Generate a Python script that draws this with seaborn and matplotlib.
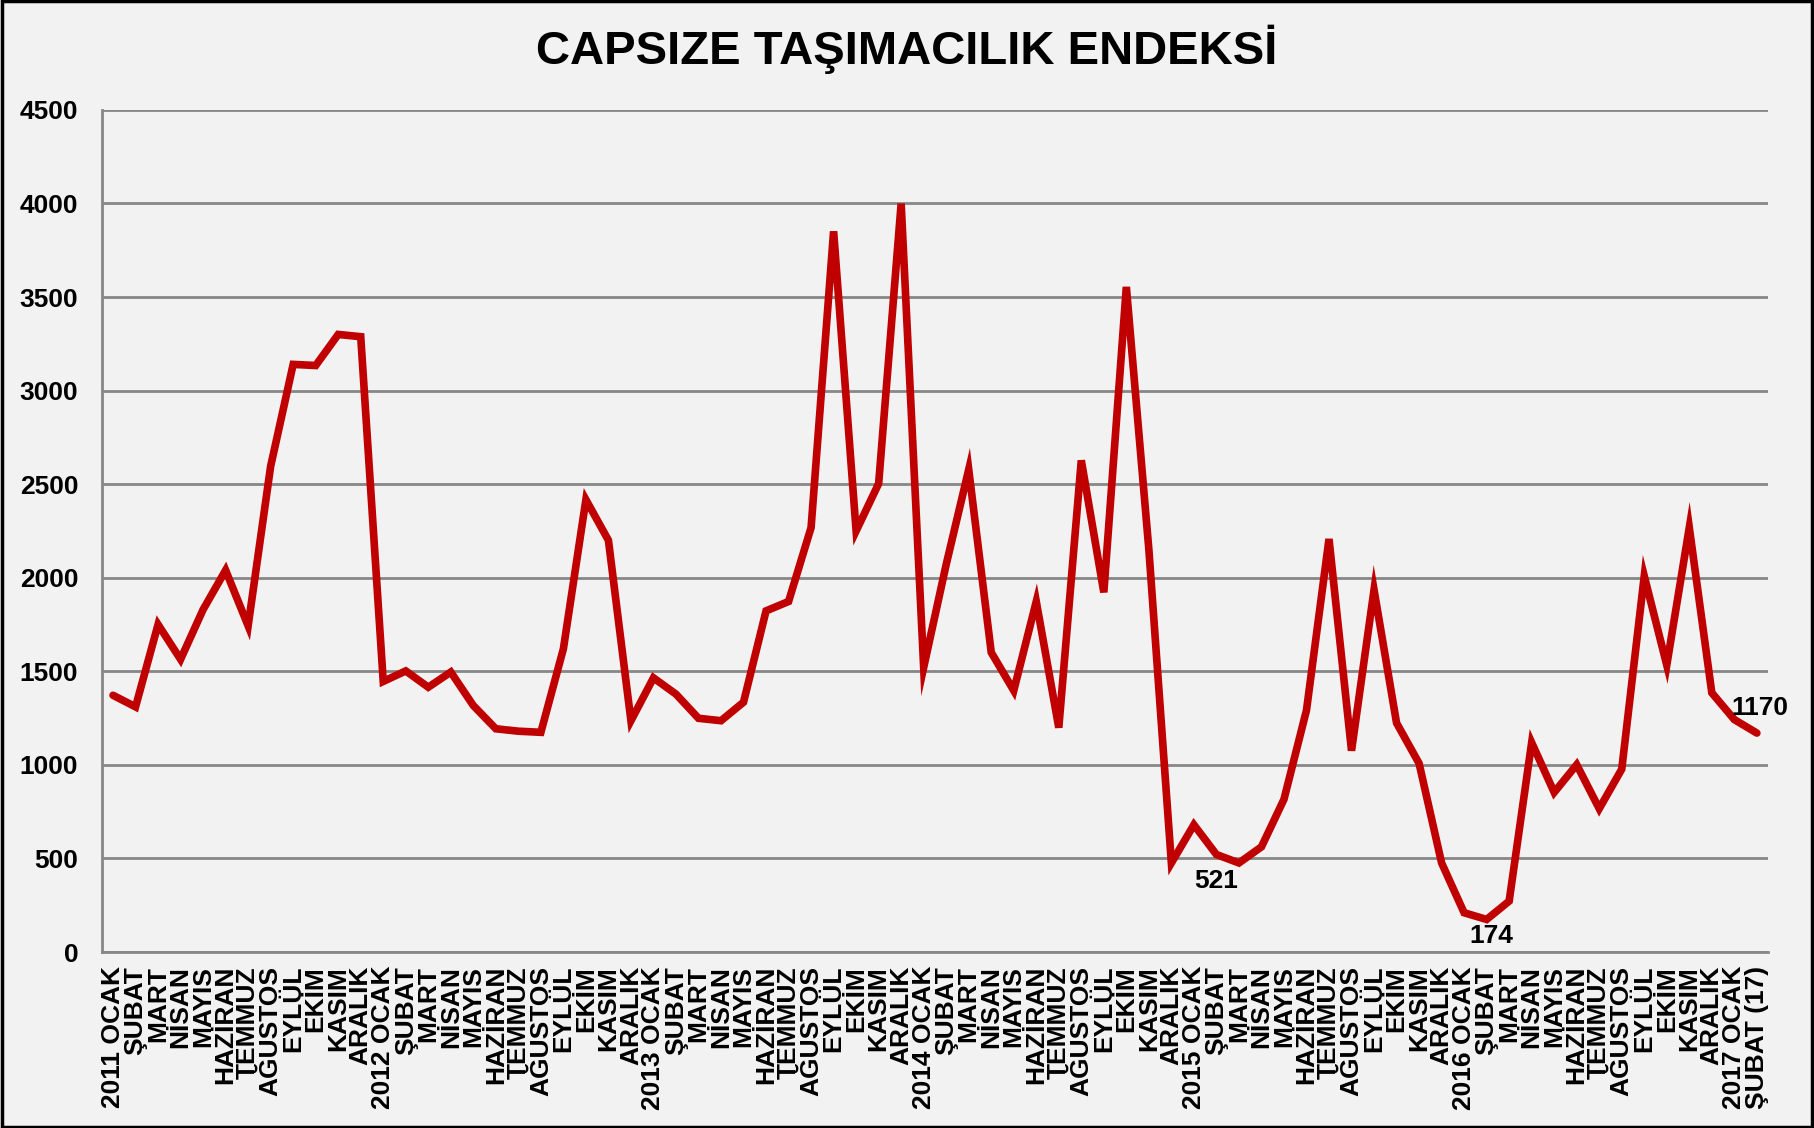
import numpy as np
import pandas as pd
import matplotlib
matplotlib.use("Agg")
import matplotlib.pyplot as plt
import seaborn as sns

# Capsize index, monthly, 2011 Ocak .. 2017 Subat
months = ["OCAK", "ŞUBAT", "MART", "NİSAN", "MAYIS", "HAZİRAN",
          "TEMMUZ", "AĞUSTOS", "EYLÜL", "EKİM", "KASIM", "ARALIK"]
years = [2011, 2012, 2013, 2014, 2015, 2016, 2017]

values = [1372, 1310, 1750, 1564, 1830, 2040, 1743, 2596, 3140, 3134, 3300, 3288,
          1446, 1502, 1415, 1496, 1317, 1193, 1180, 1174, 1620, 2417, 2200, 1236,
          1465, 1378, 1249, 1236, 1335, 1823, 1873, 2268, 3851, 2250, 2503, 3999,
          1521, 2071, 2578, 1601, 1397, 1873, 1199, 2627, 1922, 3554, 2151, 476,
          680, 521, 476, 562, 816, 1292, 2207, 1076, 1935, 1224, 1008, 476,
          210, 174, 272, 1119, 853, 1001, 766, 977, 2009, 1533, 2268, 1385,
          1242, 1170]

labels = []
for y in years:
    for m in months:
        labels.append(f"{y} {m}" if m == "OCAK" else m)
labels = labels[:len(values)]
labels[-1] = "ŞUBAT (17)"

# points that get a value label
notes = {49: "521", 61: "174", 73: "1170"}
note_offsets = {49: (0, -26), 61: (5, -17), 73: (3, 25)}

df = pd.DataFrame({"idx": np.arange(len(values)), "value": values})

sns.set_style("white")
plt.rcParams["font.family"] = ["Liberation Sans", "DejaVu Sans"]
plt.rcParams["font.weight"] = "bold"
plt.rcParams["text.color"] = "black"
plt.rcParams["xtick.labelcolor"] = "black"
plt.rcParams["ytick.labelcolor"] = "black"

bg = "#F2F2F2"
grid_c = "#878787"
red = "#C00000"

fig = plt.figure(figsize=(18.14, 11.28), dpi=100, facecolor=bg)
ax = fig.add_axes([0.0561, 0.156, 0.9186, 0.7466])
ax.set_facecolor(bg)

sns.lineplot(data=df, x="idx", y="value", ax=ax, color=red, linewidth=5.5,
             solid_joinstyle="miter", zorder=3)

ax.set_xlim(-0.5, len(values) - 0.5)
ax.set_ylim(0, 4500)
ax.set_yticks(np.arange(0, 4501, 500))
ax.yaxis.grid(True, color=grid_c, linewidth=2)
ax.set_axisbelow(True)

ax.set_xticks(df["idx"])
ax.set_xticklabels(labels, rotation=90, fontsize=19, fontweight="bold", color="black")
ax.set_xticks(np.arange(-0.5, len(values)), minor=True)
ax.tick_params(axis="x", which="major", length=0, pad=10)
ax.tick_params(axis="x", which="minor", length=9, width=1.5, color=grid_c, direction="out")
ax.tick_params(axis="y", length=9, width=1.5, color=grid_c, labelsize=19, pad=8,
               labelcolor="black")
for t in ax.get_yticklabels():
    t.set_fontweight("bold")

for s in ["top", "right"]:
    ax.spines[s].set_visible(False)
for s in ["left", "bottom"]:
    ax.spines[s].set_color(grid_c)
    ax.spines[s].set_linewidth(2)

ax.set_xlabel("")
ax.set_ylabel("")

for i, txt in notes.items():
    ax.annotate(txt, (i, values[i]), xytext=note_offsets[i], textcoords="offset pixels",
                ha="center", va="center", fontsize=19, fontweight="bold",
                color="black", zorder=4)

fig.text(0.5, 0.956, "CAPSIZE TAŞIMACILIK ENDEKSİ", ha="center", va="center",
         fontsize=34, fontweight="bold", color="black")

# black frame around the whole chart
fig.patches.append(plt.Rectangle((0.001, 0.001), 0.998, 0.998, transform=fig.transFigure,
                                 fill=False, edgecolor="black", linewidth=2.5))

fig.savefig("out.png", dpi=100, facecolor=bg)
